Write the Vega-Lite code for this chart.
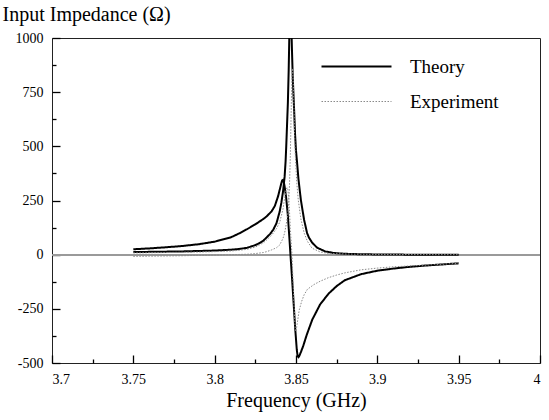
{
  "$schema": "https://vega.github.io/schema/vega-lite/v6.json",
  "width": 488,
  "height": 325,
  "autosize": {"type": "none"},
  "padding": {"left": 52, "top": 38, "right": 9, "bottom": 57},
  "config": {
    "view": {"stroke": "#222", "strokeWidth": 1},
    "font": "Liberation Serif",
    "axis": {"grid": false, "ticks": true, "domain": false, "tickColor": "#000", "tickWidth": 1.3, "labelColor": "#000", "titleColor": "#000", "labelFont": "Liberation Serif", "titleFont": "Liberation Serif", "titleFontWeight": "normal", "labelFontSize": 14},
    "legend": {"orient": "none", "legendX": 295, "legendY": 19, "symbolType": "M-5,0H5", "symbolSize": 196, "labelFont": "Liberation Serif", "labelFontSize": 19, "labelOffset": 44, "rowPadding": 15, "labelColor": "#000"}
  },
  "data": {"values": [
    {"freq": 3.750, "imp": 12, "type": "Theory", "part": "R"},
    {"freq": 3.760, "imp": 13, "type": "Theory", "part": "R"},
    {"freq": 3.770, "imp": 14, "type": "Theory", "part": "R"},
    {"freq": 3.780, "imp": 15, "type": "Theory", "part": "R"},
    {"freq": 3.790, "imp": 17, "type": "Theory", "part": "R"},
    {"freq": 3.800, "imp": 19, "type": "Theory", "part": "R"},
    {"freq": 3.810, "imp": 23, "type": "Theory", "part": "R"},
    {"freq": 3.815, "imp": 26, "type": "Theory", "part": "R"},
    {"freq": 3.820, "imp": 32, "type": "Theory", "part": "R"},
    {"freq": 3.825, "imp": 44, "type": "Theory", "part": "R"},
    {"freq": 3.828, "imp": 55, "type": "Theory", "part": "R"},
    {"freq": 3.830, "imp": 65, "type": "Theory", "part": "R"},
    {"freq": 3.832, "imp": 80, "type": "Theory", "part": "R"},
    {"freq": 3.834, "imp": 95, "type": "Theory", "part": "R"},
    {"freq": 3.836, "imp": 115, "type": "Theory", "part": "R"},
    {"freq": 3.838, "imp": 145, "type": "Theory", "part": "R"},
    {"freq": 3.840, "imp": 200, "type": "Theory", "part": "R"},
    {"freq": 3.841, "imp": 240, "type": "Theory", "part": "R"},
    {"freq": 3.842, "imp": 290, "type": "Theory", "part": "R"},
    {"freq": 3.843, "imp": 360, "type": "Theory", "part": "R"},
    {"freq": 3.8436, "imp": 430, "type": "Theory", "part": "R"},
    {"freq": 3.844, "imp": 500, "type": "Theory", "part": "R"},
    {"freq": 3.845, "imp": 700, "type": "Theory", "part": "R"},
    {"freq": 3.8455, "imp": 850, "type": "Theory", "part": "R"},
    {"freq": 3.846, "imp": 1050, "type": "Theory", "part": "R"},
    {"freq": 3.8465, "imp": 1300, "type": "Theory", "part": "R"},
    {"freq": 3.847, "imp": 1100, "type": "Theory", "part": "R"},
    {"freq": 3.8475, "imp": 950, "type": "Theory", "part": "R"},
    {"freq": 3.848, "imp": 820, "type": "Theory", "part": "R"},
    {"freq": 3.849, "imp": 640, "type": "Theory", "part": "R"},
    {"freq": 3.8494, "imp": 560, "type": "Theory", "part": "R"},
    {"freq": 3.850, "imp": 480, "type": "Theory", "part": "R"},
    {"freq": 3.8506, "imp": 430, "type": "Theory", "part": "R"},
    {"freq": 3.8515, "imp": 350, "type": "Theory", "part": "R"},
    {"freq": 3.853, "imp": 252, "type": "Theory", "part": "R"},
    {"freq": 3.855, "imp": 160, "type": "Theory", "part": "R"},
    {"freq": 3.8568, "imp": 100, "type": "Theory", "part": "R"},
    {"freq": 3.858, "imp": 78, "type": "Theory", "part": "R"},
    {"freq": 3.860, "imp": 55, "type": "Theory", "part": "R"},
    {"freq": 3.863, "imp": 32, "type": "Theory", "part": "R"},
    {"freq": 3.868, "imp": 15, "type": "Theory", "part": "R"},
    {"freq": 3.873, "imp": 8, "type": "Theory", "part": "R"},
    {"freq": 3.880, "imp": 4, "type": "Theory", "part": "R"},
    {"freq": 3.890, "imp": 2, "type": "Theory", "part": "R"},
    {"freq": 3.900, "imp": 1, "type": "Theory", "part": "R"},
    {"freq": 3.920, "imp": 0, "type": "Theory", "part": "R"},
    {"freq": 3.950, "imp": 0, "type": "Theory", "part": "R"},

    {"freq": 3.750, "imp": 25, "type": "Theory", "part": "X"},
    {"freq": 3.760, "imp": 29, "type": "Theory", "part": "X"},
    {"freq": 3.770, "imp": 34, "type": "Theory", "part": "X"},
    {"freq": 3.780, "imp": 40, "type": "Theory", "part": "X"},
    {"freq": 3.790, "imp": 48, "type": "Theory", "part": "X"},
    {"freq": 3.795, "imp": 54, "type": "Theory", "part": "X"},
    {"freq": 3.800, "imp": 60, "type": "Theory", "part": "X"},
    {"freq": 3.810, "imp": 80, "type": "Theory", "part": "X"},
    {"freq": 3.8156, "imp": 100, "type": "Theory", "part": "X"},
    {"freq": 3.820, "imp": 118, "type": "Theory", "part": "X"},
    {"freq": 3.825, "imp": 140, "type": "Theory", "part": "X"},
    {"freq": 3.830, "imp": 165, "type": "Theory", "part": "X"},
    {"freq": 3.832, "imp": 177, "type": "Theory", "part": "X"},
    {"freq": 3.835, "imp": 200, "type": "Theory", "part": "X"},
    {"freq": 3.837, "imp": 225, "type": "Theory", "part": "X"},
    {"freq": 3.839, "imp": 270, "type": "Theory", "part": "X"},
    {"freq": 3.840, "imp": 300, "type": "Theory", "part": "X"},
    {"freq": 3.841, "imp": 330, "type": "Theory", "part": "X"},
    {"freq": 3.8415, "imp": 343, "type": "Theory", "part": "X"},
    {"freq": 3.842, "imp": 345, "type": "Theory", "part": "X"},
    {"freq": 3.8425, "imp": 335, "type": "Theory", "part": "X"},
    {"freq": 3.843, "imp": 315, "type": "Theory", "part": "X"},
    {"freq": 3.844, "imp": 260, "type": "Theory", "part": "X"},
    {"freq": 3.845, "imp": 180, "type": "Theory", "part": "X"},
    {"freq": 3.846, "imp": 70, "type": "Theory", "part": "X"},
    {"freq": 3.8466, "imp": 0, "type": "Theory", "part": "X"},
    {"freq": 3.8475, "imp": -100, "type": "Theory", "part": "X"},
    {"freq": 3.8485, "imp": -220, "type": "Theory", "part": "X"},
    {"freq": 3.8495, "imp": -340, "type": "Theory", "part": "X"},
    {"freq": 3.8505, "imp": -440, "type": "Theory", "part": "X"},
    {"freq": 3.851, "imp": -468, "type": "Theory", "part": "X"},
    {"freq": 3.8515, "imp": -473, "type": "Theory", "part": "X"},
    {"freq": 3.852, "imp": -468, "type": "Theory", "part": "X"},
    {"freq": 3.853, "imp": -450, "type": "Theory", "part": "X"},
    {"freq": 3.8545, "imp": -420, "type": "Theory", "part": "X"},
    {"freq": 3.8566, "imp": -370, "type": "Theory", "part": "X"},
    {"freq": 3.860, "imp": -300, "type": "Theory", "part": "X"},
    {"freq": 3.8648, "imp": -230, "type": "Theory", "part": "X"},
    {"freq": 3.870, "imp": -180, "type": "Theory", "part": "X"},
    {"freq": 3.875, "imp": -145, "type": "Theory", "part": "X"},
    {"freq": 3.880, "imp": -118, "type": "Theory", "part": "X"},
    {"freq": 3.890, "imp": -90, "type": "Theory", "part": "X"},
    {"freq": 3.900, "imp": -74, "type": "Theory", "part": "X"},
    {"freq": 3.910, "imp": -64, "type": "Theory", "part": "X"},
    {"freq": 3.920, "imp": -56, "type": "Theory", "part": "X"},
    {"freq": 3.930, "imp": -50, "type": "Theory", "part": "X"},
    {"freq": 3.940, "imp": -45, "type": "Theory", "part": "X"},
    {"freq": 3.950, "imp": -40, "type": "Theory", "part": "X"},

    {"freq": 3.750, "imp": -8, "type": "Experiment", "part": "R"},
    {"freq": 3.760, "imp": -7, "type": "Experiment", "part": "R"},
    {"freq": 3.770, "imp": -6, "type": "Experiment", "part": "R"},
    {"freq": 3.780, "imp": -5, "type": "Experiment", "part": "R"},
    {"freq": 3.790, "imp": -3, "type": "Experiment", "part": "R"},
    {"freq": 3.800, "imp": -2, "type": "Experiment", "part": "R"},
    {"freq": 3.810, "imp": 0, "type": "Experiment", "part": "R"},
    {"freq": 3.820, "imp": 2, "type": "Experiment", "part": "R"},
    {"freq": 3.825, "imp": 5, "type": "Experiment", "part": "R"},
    {"freq": 3.830, "imp": 10, "type": "Experiment", "part": "R"},
    {"freq": 3.832, "imp": 14, "type": "Experiment", "part": "R"},
    {"freq": 3.835, "imp": 22, "type": "Experiment", "part": "R"},
    {"freq": 3.838, "imp": 32, "type": "Experiment", "part": "R"},
    {"freq": 3.840, "imp": 45, "type": "Experiment", "part": "R"},
    {"freq": 3.842, "imp": 75, "type": "Experiment", "part": "R"},
    {"freq": 3.843, "imp": 100, "type": "Experiment", "part": "R"},
    {"freq": 3.844, "imp": 140, "type": "Experiment", "part": "R"},
    {"freq": 3.845, "imp": 190, "type": "Experiment", "part": "R"},
    {"freq": 3.8455, "imp": 237, "type": "Experiment", "part": "R"},
    {"freq": 3.846, "imp": 320, "type": "Experiment", "part": "R"},
    {"freq": 3.8465, "imp": 450, "type": "Experiment", "part": "R"},
    {"freq": 3.847, "imp": 650, "type": "Experiment", "part": "R"},
    {"freq": 3.8475, "imp": 830, "type": "Experiment", "part": "R"},
    {"freq": 3.848, "imp": 860, "type": "Experiment", "part": "R"},
    {"freq": 3.8485, "imp": 760, "type": "Experiment", "part": "R"},
    {"freq": 3.849, "imp": 600, "type": "Experiment", "part": "R"},
    {"freq": 3.8495, "imp": 470, "type": "Experiment", "part": "R"},
    {"freq": 3.8505, "imp": 330, "type": "Experiment", "part": "R"},
    {"freq": 3.8514, "imp": 252, "type": "Experiment", "part": "R"},
    {"freq": 3.853, "imp": 165, "type": "Experiment", "part": "R"},
    {"freq": 3.855, "imp": 100, "type": "Experiment", "part": "R"},
    {"freq": 3.857, "imp": 62, "type": "Experiment", "part": "R"},
    {"freq": 3.8598, "imp": 30, "type": "Experiment", "part": "R"},
    {"freq": 3.865, "imp": 12, "type": "Experiment", "part": "R"},
    {"freq": 3.870, "imp": 6, "type": "Experiment", "part": "R"},
    {"freq": 3.880, "imp": 3, "type": "Experiment", "part": "R"},
    {"freq": 3.900, "imp": 1, "type": "Experiment", "part": "R"},
    {"freq": 3.950, "imp": 0, "type": "Experiment", "part": "R"},

    {"freq": 3.750, "imp": 8, "type": "Experiment", "part": "X"},
    {"freq": 3.760, "imp": 9, "type": "Experiment", "part": "X"},
    {"freq": 3.770, "imp": 10, "type": "Experiment", "part": "X"},
    {"freq": 3.780, "imp": 11, "type": "Experiment", "part": "X"},
    {"freq": 3.790, "imp": 12, "type": "Experiment", "part": "X"},
    {"freq": 3.800, "imp": 14, "type": "Experiment", "part": "X"},
    {"freq": 3.810, "imp": 17, "type": "Experiment", "part": "X"},
    {"freq": 3.815, "imp": 20, "type": "Experiment", "part": "X"},
    {"freq": 3.820, "imp": 25, "type": "Experiment", "part": "X"},
    {"freq": 3.825, "imp": 35, "type": "Experiment", "part": "X"},
    {"freq": 3.830, "imp": 55, "type": "Experiment", "part": "X"},
    {"freq": 3.832, "imp": 68, "type": "Experiment", "part": "X"},
    {"freq": 3.835, "imp": 90, "type": "Experiment", "part": "X"},
    {"freq": 3.838, "imp": 120, "type": "Experiment", "part": "X"},
    {"freq": 3.840, "imp": 150, "type": "Experiment", "part": "X"},
    {"freq": 3.842, "imp": 210, "type": "Experiment", "part": "X"},
    {"freq": 3.843, "imp": 260, "type": "Experiment", "part": "X"},
    {"freq": 3.844, "imp": 300, "type": "Experiment", "part": "X"},
    {"freq": 3.8445, "imp": 310, "type": "Experiment", "part": "X"},
    {"freq": 3.845, "imp": 300, "type": "Experiment", "part": "X"},
    {"freq": 3.8455, "imp": 260, "type": "Experiment", "part": "X"},
    {"freq": 3.846, "imp": 200, "type": "Experiment", "part": "X"},
    {"freq": 3.8465, "imp": 120, "type": "Experiment", "part": "X"},
    {"freq": 3.847, "imp": 60, "type": "Experiment", "part": "X"},
    {"freq": 3.8475, "imp": 0, "type": "Experiment", "part": "X"},
    {"freq": 3.848, "imp": -90, "type": "Experiment", "part": "X"},
    {"freq": 3.8485, "imp": -180, "type": "Experiment", "part": "X"},
    {"freq": 3.849, "imp": -270, "type": "Experiment", "part": "X"},
    {"freq": 3.8495, "imp": -340, "type": "Experiment", "part": "X"},
    {"freq": 3.850, "imp": -355, "type": "Experiment", "part": "X"},
    {"freq": 3.8505, "imp": -330, "type": "Experiment", "part": "X"},
    {"freq": 3.852, "imp": -255, "type": "Experiment", "part": "X"},
    {"freq": 3.8535, "imp": -215, "type": "Experiment", "part": "X"},
    {"freq": 3.855, "imp": -185, "type": "Experiment", "part": "X"},
    {"freq": 3.857, "imp": -160, "type": "Experiment", "part": "X"},
    {"freq": 3.861, "imp": -138, "type": "Experiment", "part": "X"},
    {"freq": 3.865, "imp": -122, "type": "Experiment", "part": "X"},
    {"freq": 3.870, "imp": -106, "type": "Experiment", "part": "X"},
    {"freq": 3.875, "imp": -94, "type": "Experiment", "part": "X"},
    {"freq": 3.880, "imp": -84, "type": "Experiment", "part": "X"},
    {"freq": 3.890, "imp": -70, "type": "Experiment", "part": "X"},
    {"freq": 3.900, "imp": -62, "type": "Experiment", "part": "X"},
    {"freq": 3.910, "imp": -56, "type": "Experiment", "part": "X"},
    {"freq": 3.920, "imp": -52, "type": "Experiment", "part": "X"},
    {"freq": 3.935, "imp": -46, "type": "Experiment", "part": "X"},
    {"freq": 3.950, "imp": -40, "type": "Experiment", "part": "X"}
  ]},
  "resolve": {"axis": {"x": "independent", "y": "independent"}},
  "layer": [
    {
      "mark": {"type": "rule", "color": "#9a9a9a", "strokeWidth": 1.5},
      "encoding": {"y": {"datum": 0, "type": "quantitative", "scale": {"domain": [-500, 1000], "nice": false, "zero": false}, "axis": null}}
    },
    {
      "mark": {"type": "line", "clip": true},
      "encoding": {
        "x": {"field": "freq", "type": "quantitative", "scale": {"domain": [3.7, 4], "nice": false, "zero": false},
              "axis": {"values": [3.7, 3.75, 3.8, 3.85, 3.9, 3.95, 4], "labelExpr": "toString(datum.value)", "offset": -8, "tickSize": 8, "labelPadding": 9, "title": "Frequency (GHz)", "titleFontSize": 20, "titleY": 51, "titleBaseline": "alphabetic", "orient": "bottom"}},
        "y": {"field": "imp", "type": "quantitative", "scale": {"domain": [-500, 1000], "nice": false, "zero": false},
              "axis": {"values": [-500, -250, 0, 250, 500, 750, 1000], "labelExpr": "toString(datum.value)", "offset": -8, "tickSize": 8, "labelPadding": 9, "title": "Input Impedance (Ω)", "titleFontSize": 20, "titleAngle": 0, "titleAlign": "left", "titleX": -58, "titleY": -18, "titleBaseline": "alphabetic", "orient": "left"}},
        "detail": {"field": "part"},
        "color": {"field": "type", "type": "nominal", "scale": {"domain": ["Theory", "Experiment"], "range": ["#000000", "#8a8a8a"]}, "title": null},
        "strokeDash": {"field": "type", "type": "nominal", "scale": {"domain": ["Theory", "Experiment"], "range": [[1, 0], [1.5, 1.5]]}, "title": null},
        "strokeWidth": {"field": "type", "type": "nominal", "scale": {"domain": ["Theory", "Experiment"], "range": [2, 1]}, "title": null}
      }
    },
    {
      "mark": {"type": "point", "opacity": 0},
      "encoding": {
        "x": {"field": "freq", "type": "quantitative", "scale": {"domain": [3.7, 4], "nice": false, "zero": false},
              "axis": {"values": [3.725, 3.775, 3.825, 3.875, 3.925, 3.975], "labels": false, "offset": -4, "tickSize": 4, "title": null, "orient": "bottom"}},
        "y": {"field": "imp", "type": "quantitative", "scale": {"domain": [-500, 1000], "nice": false, "zero": false},
              "axis": {"values": [-375, -125, 125, 375, 625, 875], "labels": false, "offset": -4, "tickSize": 4, "title": null, "orient": "left"}}
      }
    }
  ]
}
